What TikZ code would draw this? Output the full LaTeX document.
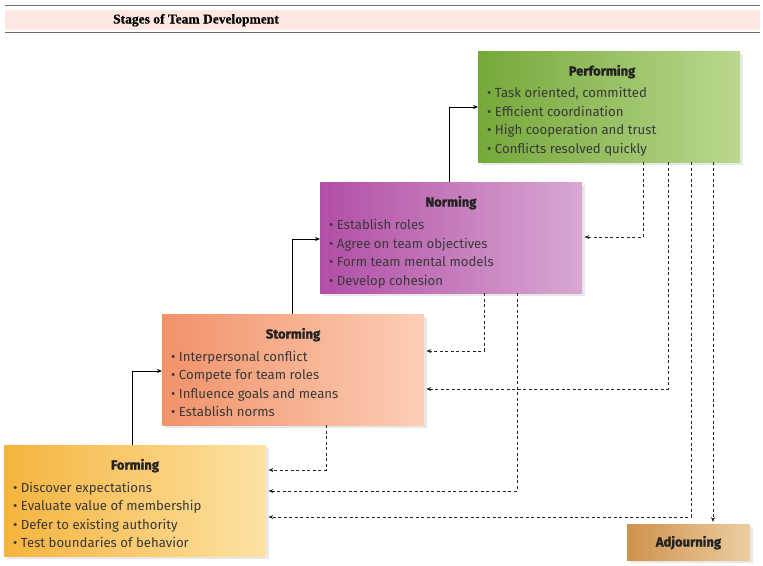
\documentclass[tikz,border=0pt]{standalone}
\usepackage{fontspec}
\setmainfont{Fira Sans}
\newfontfamily\heavyfont[BoldFeatures={FakeBold=1.6}]{Fira Sans}
\newfontfamily\headfont[BoldFeatures={FakeBold=0.4}]{Liberation Serif}
\usetikzlibrary{arrows.meta,shadows}
\definecolor{txt}{RGB}{35,35,35}
\definecolor{perfL}{RGB}{118,168,58}
\definecolor{perfR}{RGB}{186,216,142}
\definecolor{normL}{RGB}{178,78,166}
\definecolor{normR}{RGB}{216,168,211}
\definecolor{stormL}{RGB}{241,146,106}
\definecolor{stormR}{RGB}{252,206,182}
\definecolor{formL}{RGB}{245,180,62}
\definecolor{formR}{RGB}{253,226,164}
\definecolor{adjL}{RGB}{206,146,76}
\definecolor{adjR}{RGB}{236,206,162}
\definecolor{band}{RGB}{252,232,224}
\definecolor{rule}{RGB}{110,110,110}
\begin{document}
\begin{tikzpicture}[x=1pt,y=-1pt,
  stagebox/.style={rectangle,draw=none,anchor=north west,inner sep=0pt,
    minimum width=262pt,minimum height=111pt,
    drop shadow={opacity=0.18,shadow xshift=3pt,shadow yshift=-3pt}},
  ttl/.style={anchor=base,inner sep=0pt,text=txt,font=\heavyfont\fontsize{13}{15}\selectfont\bfseries},
  item/.style={anchor=base west,inner sep=0pt,text=txt!90,font=\fontsize{13.2}{15}\selectfont},
  solidarr/.style={draw=black,line width=0.7pt,-{Stealth[length=5pt,width=4pt]}},
  dasharr/.style={draw=black!85,line width=0.7pt,dash pattern=on 3pt off 2.5pt,
    -{Stealth[length=5pt,width=4pt]},shorten >=2pt}]
\useasboundingbox (0,0) rectangle (763,565);
% header
\fill[band] (5,10) rectangle (760,30);
\draw[rule,line width=1pt] (5,5) -- (760,5);
\draw[rule,line width=1pt] (5,32) -- (760,32);
\node[anchor=base west,inner sep=0pt,font=\headfont\fontsize{13.5}{15}\selectfont\bfseries] (head) at (113,23.5) {Stages of Team Development};
% boxes
\node[stagebox,left color=perfL,right color=perfR] (perf) at (478,51) {};
\node[stagebox,left color=normL,right color=normR] (norm) at (320,182) {};
\node[stagebox,left color=stormL,right color=stormR] (storm) at (162,314) {};
\node[stagebox,left color=formL,right color=formR] (form) at (4,445) {};
\node[stagebox,left color=adjL,right color=adjR,minimum width=123pt,minimum height=36pt] (adj) at (627,524) {};
% titles
\node[ttl] (perfT) at (602,75.5) {Performing};
\node[ttl] (normT) at (451,206.5) {Norming};
\node[ttl] (stormT) at (293,338.5) {Storming};
\node[ttl] (formT) at (135,469.5) {Forming};
\node[ttl] (adjT) at (688.5,546.5) {Adjourning};
% bullets
\node[item] (p1) at (487,97.5) {• Task oriented, committed};
\node[item] (p2) at (487,116) {• Efficient coordination};
\node[item] (p3) at (487,134.5) {• High cooperation and trust};
\node[item] (p4) at (487,153) {• Conflicts resolved quickly};
\node[item] (n1) at (329,229.5) {• Establish roles};
\node[item] (n2) at (329,248) {• Agree on team objectives};
\node[item] (n3) at (329,266.5) {• Form team mental models};
\node[item] (n4) at (329,285) {• Develop cohesion};
\node[item] (s1) at (171,361) {• Interpersonal conflict};
\node[item] (s2) at (171,379.5) {• Compete for team roles};
\node[item] (s3) at (171,398) {• Influence goals and means};
\node[item] (s4) at (171,416.5) {• Establish norms};
\node[item] (f1) at (13,492) {• Discover expectations};
\node[item] (f2) at (13,510.5) {• Evaluate value of membership};
\node[item] (f3) at (13,529) {• Defer to existing authority};
\node[item] (f4) at (13,547.5) {• Test boundaries of behavior};
% solid connectors
\draw[solidarr] (form.north -| 132,0) |- (storm.west |- 0,371);
\draw[solidarr] (storm.north -| 292,0) |- (norm.west |- 0,239);
\draw[solidarr] (norm.north -| 449,0) |- (perf.west |- 0,107);
% dashed connectors
\draw[dasharr] (perf.south -| 643,0) |- (norm.east |- 0,237);
\draw[dasharr] (perf.south -| 668,0) |- (storm.east |- 0,389);
\draw[dasharr] (perf.south -| 691,0) |- (form.east |- 0,517);
\draw[dasharr] (perf.south -| 713,0) -- (adj.north -| 713,0);
\draw[dasharr] (norm.south -| 484,0) |- (storm.east |- 0,351);
\draw[dasharr] (norm.south -| 517,0) |- (form.east |- 0,491);
\draw[dasharr] (storm.south -| 326,0) |- (form.east |- 0,470);
\end{tikzpicture}
\end{document}
